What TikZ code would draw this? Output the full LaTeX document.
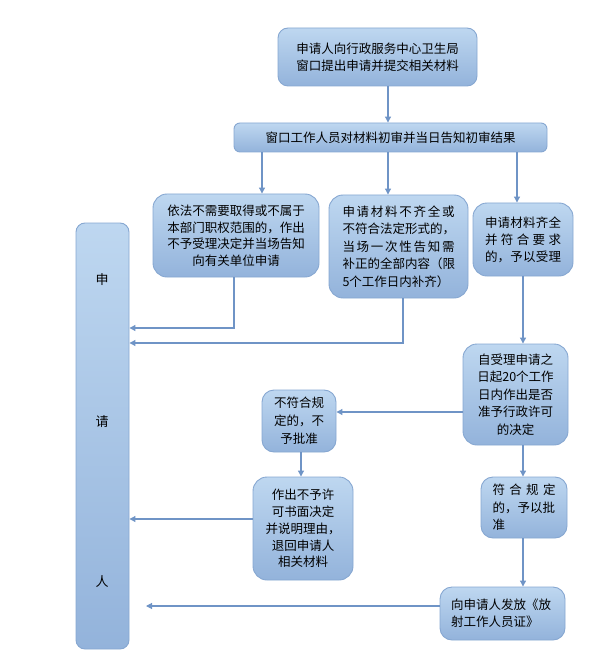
\documentclass[tikz,border=0pt]{standalone}
\usepackage{fontspec}
\newfontfamily\cjk{Noto Sans CJK SC}
\usetikzlibrary{arrows.meta}
\definecolor{bxtop}{HTML}{BED7F0}
\definecolor{bxbot}{HTML}{93B3DB}
\definecolor{bxline}{HTML}{86A7D1}
\definecolor{ln}{HTML}{6F94C6}
\def\slaux#1{\ifx\relax#1\else#1\hfil\expandafter\slaux\fi}
\newcommand\sline[2]{\leavevmode\hbox to #1{\slaux#2\relax\unskip}}
\tikzset{
 box/.style={draw=bxline, line width=0.9pt, top color=bxtop, bottom color=bxbot,
   rounded corners=14pt, inner sep=0pt, text=black,
   font=\cjk\fontsize{12.5}{17}\selectfont},
 conn/.style={draw=ln, line width=1.1pt, -{Triangle[width=6pt,length=6pt]}},
 lbl/.style={font=\cjk\fontsize{13}{15}\selectfont, inner sep=0pt},
}
\begin{document}
\begin{tikzpicture}[x=1pt,y=-1pt]
\useasboundingbox (0,0) rectangle (614,652);
% boxes
\node[box, rounded corners=10pt, minimum width=199pt, minimum height=58pt, align=center] (top) at (377.5,57)
  {申请人向行政服务中心卫生局\\窗口提出申请并提交相关材料};
\node[box, rounded corners=6pt, minimum width=313pt, minimum height=29pt] (sec) at (390.5,137.5)
  {窗口工作人员对材料初审并当日告知初审结果};
\node[box, minimum width=166pt, minimum height=83pt, align=center, font=\cjk\fontsize{12.5}{16.5}\selectfont] (A) at (236,235.5)
  {依法不需要取得或不属于\\本部门职权范围的，作出\\不予受理决定并当场告知\\向有关单位申请};
\node[box, minimum width=139pt, minimum height=103pt, text width=112pt, align=left, font=\cjk\fontsize{12.5}{17.5}\selectfont] (B) at (398.5,246.5)
  {\sline{112pt}{申请材料不齐全或}\\\sline{112pt}{不符合法定形式的，}\\\sline{112pt}{当场一次性告知需}\\\sline{112pt}{补正的全部内容（限}\\5个工作日内补齐）};
\node[box, minimum width=100pt, minimum height=73pt, text width=76pt, align=left] (C) at (523,239.5)
  {\sline{76pt}{申请材料齐全}\\\sline{76pt}{并符合要求}\\\sline{76pt}{的，予以受理}};
\node[box, rounded corners=9pt, minimum width=53pt, minimum height=426pt] (P) at (102.5,436) {};
\node[lbl] (p1) at (102,280) {申};
\node[lbl] (p2) at (102,422) {请};
\node[lbl] (p3) at (102,582) {人};
\node[box, minimum width=105pt, minimum height=101pt, align=center, font=\cjk\fontsize{12.5}{17.5}\selectfont] (D) at (515.5,394.5)
  {自受理申请之\\日起20个工作\\日内作出是否\\准予行政许可\\的决定};
\node[box, rounded corners=12pt, minimum width=74pt, minimum height=62pt, align=center, font=\cjk\fontsize{12.5}{18}\selectfont] (N) at (299,421)
  {不符合规\\定的，不\\予批准};
\node[box, minimum width=100pt, minimum height=103pt, align=center, font=\cjk\fontsize{12.5}{16.8}\selectfont] (R) at (303,528.5)
  {作出不予许\\可书面决定\\并说明理由，\\退回申请人\\相关材料};
\node[box, rounded corners=12pt, minimum width=86pt, minimum height=61pt, text width=63pt, align=left, font=\cjk\fontsize{12.5}{17.5}\selectfont] (K) at (524,507.5)
  {\sline{63pt}{符合规定}\\的，予以批\\准};
\node[box, rounded corners=12pt, minimum width=125pt, minimum height=53pt, text width=103pt, align=left] (F) at (502.5,613.5)
  {向申请人发放《放\\射工作人员证》};
\coordinate (fe) at (146,606);
% connectors
\draw[conn] (top.south -| 388,0) -- (sec.north -| 388,0);
\draw[conn] (sec.south -| 262,0) -- (A.north -| 262,0);
\draw[conn] (sec.south -| 388,0) -- (B.north -| 388,0);
\draw[conn] (sec.south -| 517,0) -- (C.north -| 517,0);
\draw[conn] (A.south -| 234,0) |- (P.east |- 0,328);
\draw[conn] (B.south -| 403,0) |- (P.east |- 0,343);
\draw[conn] (C.south -| 523,0) -- (D.north -| 523,0);
\draw[conn] (D.west |- 0,412) -- (N.east |- 0,412);
\draw[conn] (N.south -| 301,0) -- (R.north -| 301,0);
\draw[conn] (R.west |- 0,519) -- (P.east |- 0,519);
\draw[conn] (D.south -| 523,0) -- (K.north -| 523,0);
\draw[conn] (K.south -| 523,0) -- (F.north -| 523,0);
\draw[conn] (F.west |- 0,606) -- (fe);
\end{tikzpicture}
\end{document}
